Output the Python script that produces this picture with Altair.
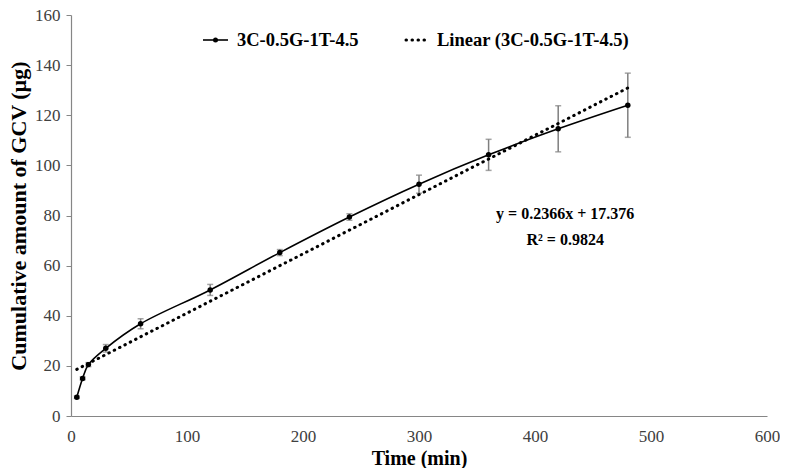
import altair as alt
import pandas as pd

time_min = [5, 10, 15, 30, 60, 120, 180, 240, 300, 360, 420, 480]
amount = [7.5, 15.0, 20.5, 27.0, 36.8, 50.3, 65.2, 79.4, 92.5, 104.2, 114.6, 124.0]
err = [0.5, 0.6, 0.8, 1.5, 2.0, 2.2, 1.2, 1.3, 3.6, 6.2, 9.2, 12.8]

trend_x = [5, 480]
trend_y = [18.6, 130.9]

series_name = "3C-0.5G-1T-4.5"
trend_name = "Linear (3C-0.5G-1T-4.5)"
eq_lines = ["y = 0.2366x + 17.376", "R² = 0.9824"]

df = pd.DataFrame({"t": time_min, "a": amount, "e": err})
df["lo"] = df["a"] - df["e"]
df["hi"] = df["a"] + df["e"]
tdf = pd.DataFrame({"t": trend_x, "a": trend_y})

FONT = "Liberation Serif"
W, H = 696, 401

xs = alt.Scale(domain=[0, 600], nice=False)
ys = alt.Scale(domain=[0, 160], nice=False)

xax = alt.Axis(values=[0, 100, 200, 300, 400, 500, 600], title="Time (min)", grid=False,
               ticks=False, labelPadding=12, titlePadding=4, labelFlush=False,
               labelFont=FONT, labelFontSize=17, titleFont=FONT, titleFontSize=20)
yax = alt.Axis(values=list(range(0, 161, 20)), title="Cumulative amount of GCV (µg)", grid=False,
               tickSize=5, labelPadding=6, titlePadding=4, labelFlush=False,
               labelFont=FONT, labelFontSize=17, titleFont=FONT, titleFontSize=22)

base = alt.Chart(df)

errbars = base.mark_rule(color="#7f7f7f", strokeWidth=1.5).encode(
    x=alt.X("t:Q", scale=xs, axis=xax),
    y=alt.Y("lo:Q", scale=ys, axis=yax),
    y2="hi:Q",
)
caps_hi = base.mark_tick(color="#7f7f7f", thickness=1.5, size=6, orient="horizontal").encode(
    x=alt.X("t:Q", scale=xs), y=alt.Y("hi:Q", scale=ys))
caps_lo = base.mark_tick(color="#7f7f7f", thickness=1.5, size=6, orient="horizontal").encode(
    x=alt.X("t:Q", scale=xs), y=alt.Y("lo:Q", scale=ys))

trend = alt.Chart(tdf).mark_line(color="black", strokeWidth=3, strokeDash=[0.5, 5.5], strokeCap="round").encode(
    x=alt.X("t:Q", scale=xs), y=alt.Y("a:Q", scale=ys))

line = base.mark_line(color="black", strokeWidth=1.6, interpolate="catmull-rom").encode(
    x=alt.X("t:Q", scale=xs), y=alt.Y("a:Q", scale=ys))
pts = base.mark_point(filled=True, color="black", size=30, opacity=1).encode(
    x=alt.X("t:Q", scale=xs), y=alt.Y("a:Q", scale=ys))

eqdf = pd.DataFrame({"t": [426, 426], "a": [80.5, 70.3], "txt": eq_lines})
eq = alt.Chart(eqdf).mark_text(font=FONT, fontSize=16, fontWeight="bold", color="black").encode(
    x=alt.X("t:Q", scale=xs), y=alt.Y("a:Q", scale=ys), text="txt:N")

# legend (manual, plot-area pixel positions)
leg_y = 25
leg1_line = alt.Chart(df.head(1)).mark_rule(color="black", strokeWidth=1.6).encode(
    x=alt.value(132), x2=alt.value(157), y=alt.value(leg_y))
leg1_pt = alt.Chart(df.head(1)).mark_point(filled=True, color="black", size=25, opacity=1).encode(
    x=alt.value(144.5), y=alt.value(leg_y))
leg1_txt = alt.Chart(df.head(1)).mark_text(font=FONT, fontSize=18.5, fontWeight="bold", align="left",
                                          baseline="middle", color="black").encode(
    x=alt.value(166), y=alt.value(leg_y), text=alt.value(series_name))
leg2_line = alt.Chart(df.head(1)).mark_rule(color="black", strokeWidth=3, strokeDash=[0.5, 5.5],
                                           strokeCap="round").encode(
    x=alt.value(335), x2=alt.value(358), y=alt.value(leg_y))
leg2_txt = alt.Chart(df.head(1)).mark_text(font=FONT, fontSize=18.5, fontWeight="bold", align="left",
                                          baseline="middle", color="black").encode(
    x=alt.value(366), y=alt.value(leg_y), text=alt.value(trend_name))

chart = alt.layer(errbars, caps_hi, caps_lo, trend, line, pts, eq,
                  leg1_line, leg1_pt, leg1_txt, leg2_line, leg2_txt).properties(
    width=W, height=H,
    autosize=alt.AutoSizeParams(type="none"),
    padding={"left": 63, "top": 7, "right": 13, "bottom": 52},
).configure_view(stroke=None).configure_axis(
    labelFont=FONT, titleFont=FONT,
    labelColor="#404040", titleColor="black", titleFontWeight="bold",
    domainColor="#868686", tickColor="#868686", domainWidth=1.2,
)

chart.save("out.html", embed_options={"renderer": "svg", "actions": False})
